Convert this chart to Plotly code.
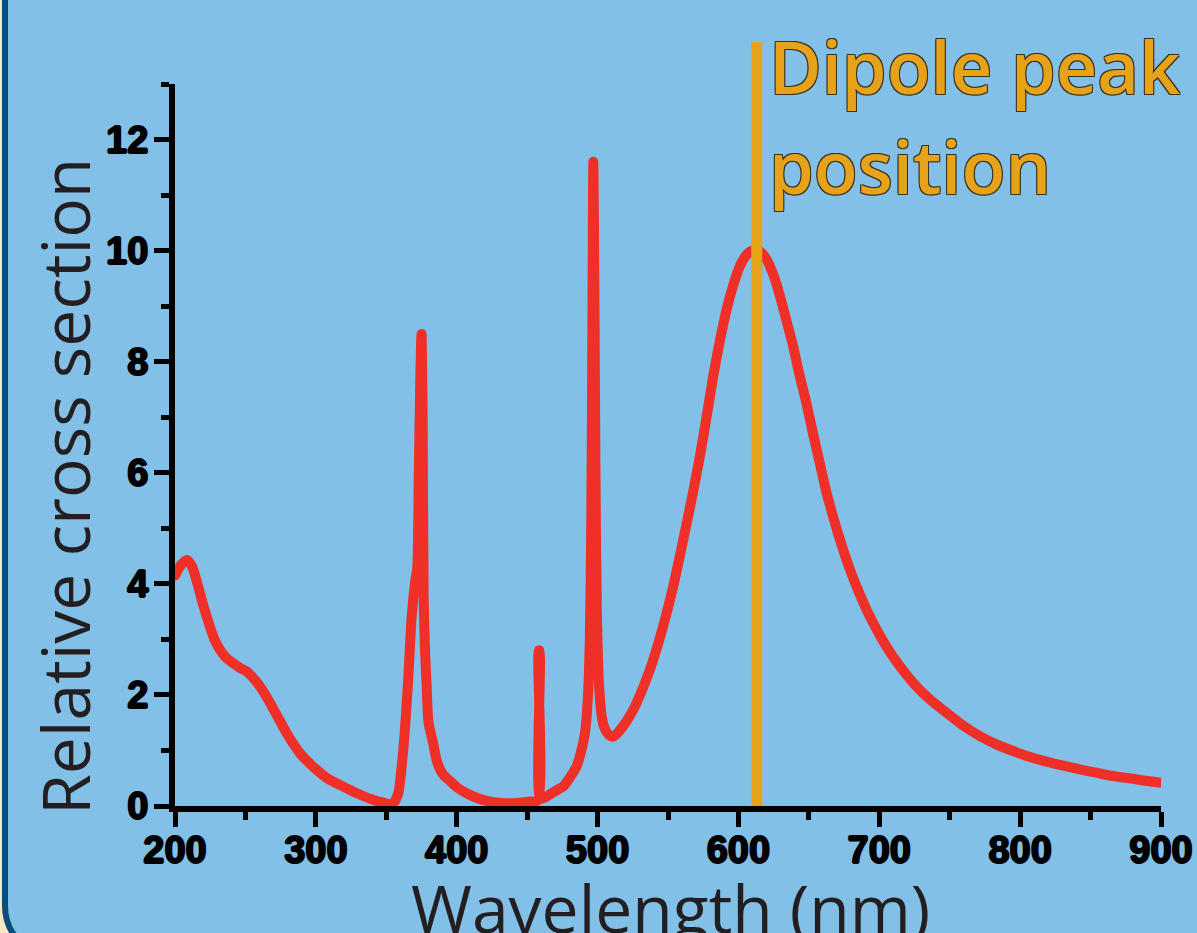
import plotly.graph_objects as go

# ---------------- data ----------------
wavelength_nm = [
    200, 204, 208.5, 212, 216.5, 220, 224.8, 228, 232, 236, 241.4, 246, 250.9, 255, 258, 262,
    267.4, 273, 279.3, 284, 288.7, 295, 300.6, 308, 317, 325, 333.6, 341, 347.8, 352.6, 355,
    358.5, 360.9, 363, 365.6, 368, 370.3, 372, 373, 374, 375, 375.8, 376.5, 377.5, 378.6, 380,
    383.3, 386, 390, 395.2, 400, 407, 415, 423.6, 430, 437.8, 445, 452, 457.6, 458.2, 458.8,
    459.4, 463.8, 468, 472, 475.6, 480, 485, 488, 491, 493, 494.5, 495.5, 496.3, 497, 497.7,
    498.5, 499.5, 501, 503, 505, 508, 511, 517, 525.3, 531, 537.1, 543, 549, 555, 560.8, 567,
    572.6, 578, 582.1, 587, 591.6, 596, 601, 605, 608.1, 612.8, 616, 620, 625, 629.5, 634,
    638.8, 643, 648.3, 653, 657.8, 662, 667.2, 673, 679, 685, 690.9, 696, 700.4, 710, 724,
    735, 747.7, 760, 771.3, 783, 795, 806, 818.7, 830, 842.3, 854, 866, 880, 890, 900,
]
cross_section = [
    4.15, 4.33, 4.43, 4.32, 3.95, 3.62, 3.23, 3.0, 2.81, 2.68, 2.57, 2.49, 2.42, 2.32, 2.23, 2.09,
    1.86, 1.6, 1.31, 1.12, 0.95, 0.78, 0.65, 0.5, 0.38, 0.28, 0.18, 0.11, 0.06, 0.03, 0.05,
    0.23, 0.71, 1.3, 2.3, 3.4, 4.0, 4.3, 5.8, 7.5, 8.5, 7.0, 3.8, 2.8, 2.2, 1.5,
    1.13, 0.8, 0.58, 0.45, 0.34, 0.23, 0.14, 0.08, 0.06, 0.05, 0.06, 0.08, 0.1, 2.8, 2.8,
    0.13, 0.17, 0.24, 0.3, 0.35, 0.5, 0.71, 0.95, 1.31, 1.9, 3.0, 5.0, 8.5, 11.6, 9.5,
    6.0, 3.5, 2.2, 1.6, 1.4, 1.28, 1.25, 1.4, 1.73, 2.05, 2.45, 2.92, 3.47, 4.1, 4.79, 5.55,
    6.29, 7.1, 7.74, 8.4, 8.94, 9.35, 9.72, 9.9, 9.98, 10.02, 9.97, 9.84, 9.55, 9.18, 8.75,
    8.28, 7.8, 7.25, 6.7, 6.17, 5.7, 5.21, 4.72, 4.27, 3.88, 3.54, 3.28, 3.07, 2.68, 2.22,
    1.94, 1.68, 1.44, 1.26, 1.11, 0.99, 0.89, 0.80, 0.73, 0.66, 0.60, 0.54, 0.49, 0.45, 0.42,
]
dipole_peak_nm = 613
x_tick_values = [200, 300, 400, 500, 600, 700, 800, 900]
y_tick_values = [0, 2, 4, 6, 8, 10, 12]
x_title = "Wavelength (nm)"
y_title = "Relative cross section"
peak_label_lines = ["Dipole peak", "position"]

# ---------------- styling ----------------
W, H = 1197, 933
ML, MR, MT, MB = 175, 36, 84, 127
PW, PH = W - ML - MR, H - MT - MB

def px(xp):
    return (xp - ML) / PW

def py(yp):
    return (H - MB - yp) / PH

RED = "#EF3029"
ORANGE = "#E6A31A"
BG = "#82C0E8"
BORDER = "#0A4D7A"
CREAM = "#FBE8C3"
TEXT = "#231F20"

tick_shadow = "1px 0px 0px #000, -1px 0px 0px #000, 0px 1px 0px #000, 0px -1px 0px #000"
label_shadow = ("1px 1px 0px #3a3020, -1px -1px 0px #3a3020, 1px -1px 0px #3a3020, "
                "-1px 1px 0px #3a3020")

fig = go.Figure()
fig.add_trace(go.Scatter(
    x=wavelength_nm, y=cross_section, mode="lines",
    line=dict(color=RED, width=10, shape="spline", smoothing=0.7),
    hoverinfo="skip", showlegend=False,
))

axis_common = dict(
    showgrid=False, zeroline=False, showline=True, linecolor="black", linewidth=6,
    ticks="outside", tickwidth=5, tickcolor="black", ticklen=15,
    tickfont=dict(family="Liberation Sans, Arial", size=38, color="black",
                  weight="bold", shadow=tick_shadow),
)

fig.update_xaxes(
    range=[200, 900], tickmode="array", tickvals=x_tick_values, ticklabelstandoff=-10,
    minor=dict(dtick=50, ticks="outside", ticklen=8, tickwidth=5, tickcolor="black",
               showgrid=False),
    **axis_common,
)
fig.update_yaxes(
    range=[0, 13], tickmode="array", tickvals=y_tick_values, ticklabelstandoff=-2,
    minor=dict(dtick=1, ticks="outside", ticklen=8, tickwidth=5, tickcolor="black",
               showgrid=False),
    **axis_common,
)

# background panel with rounded bottom-left corner
x_left = px(5)
x_right = px(1260)
y_top = py(-60)
y_bot = py(956)
path = (f"M {x_left},{y_top} L {x_left},{py(906)} "
        f"C {x_left},{py(934)} {px(27)},{y_bot} {px(55)},{y_bot} "
        f"L {x_right},{y_bot} L {x_right},{y_top} Z")
fig.add_shape(type="path", xref="paper", yref="paper", path=path,
              fillcolor=BG, line=dict(color=BORDER, width=6), layer="below")

# dipole peak marker line
fig.add_shape(type="line", xref="x", yref="paper",
              x0=dipole_peak_nm, x1=dipole_peak_nm, y0=0, y1=py(42),
              line=dict(color=ORANGE, width=11), layer="above")

label_font = dict(family="Open Sans", size=72, color=ORANGE, weight=600, shadow=label_shadow)
for line_text, top_px in zip(peak_label_lines, [15, 115]):
    fig.add_annotation(
        text=line_text, xref="paper", yref="paper", x=px(767), y=py(top_px),
        xanchor="left", yanchor="top", align="left", showarrow=False, font=label_font,
    )
fig.add_annotation(
    text=y_title, xref="paper", yref="paper", x=px(64), y=py(487),
    xanchor="center", yanchor="middle", textangle=-90, showarrow=False,
    font=dict(family="Open Sans", size=66, color=TEXT),
)
fig.add_annotation(
    text=x_title, xref="paper", yref="paper", x=px(670), y=py(860),
    xanchor="center", yanchor="top", showarrow=False,
    font=dict(family="Open Sans", size=66, color=TEXT),
)

fig.update_layout(
    width=W, height=H, margin=dict(l=ML, r=MR, t=MT, b=MB, autoexpand=False),
    paper_bgcolor=CREAM, plot_bgcolor="rgba(0,0,0,0)", showlegend=False,
)

post = (
    "document.body.style.margin='0';"
    "document.querySelectorAll('.scatterlayer path.js-line').forEach(function(p){"
    "p.style.strokeLinecap='round';p.style.strokeLinejoin='round';});"
)
fig.write_html("out.html", post_script=post, config={"displayModeBar": False})
